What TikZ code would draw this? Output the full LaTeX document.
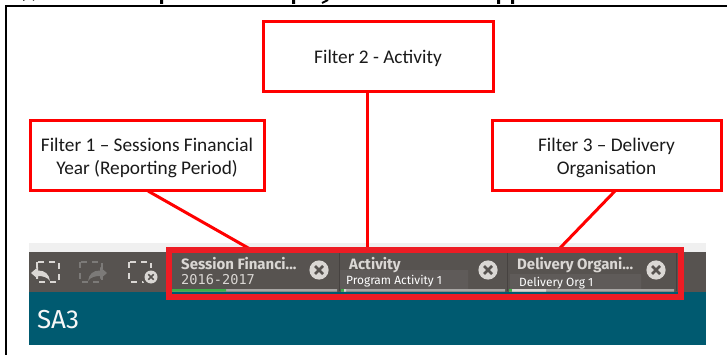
\documentclass[tikz,border=0pt]{standalone}
\usepackage{fontspec}
\setmainfont{Carlito}
\newfontfamily\uifont{Fira Sans}
\newfontfamily\uimono{DejaVu Sans Mono}
\newcommand{\toppad}{\rule{0pt}{17pt}}
\definecolor{callred}{HTML}{FF0000}
\definecolor{framered}{HTML}{ED1C24}
\definecolor{barDark}{HTML}{575350}
\definecolor{barTeal}{HTML}{005A70}
\definecolor{valBg}{HTML}{5F5B59}
\definecolor{uiLight}{HTML}{DAD7D4}
\definecolor{uiGrey}{HTML}{A8A6A4}
\definecolor{uiDim}{HTML}{7C7A78}
\definecolor{uiGreen}{HTML}{3FAE49}
\definecolor{txt}{HTML}{1A1A1A}
\tikzset{
 callout/.style={draw=callred,line width=3pt,fill=white,text=txt,inner sep=0pt,align=center,font=\fontsize{19.3}{23.5}\selectfont},
 link/.style={draw=callred,line width=3pt},
 tabtitle/.style={anchor=base west,inner sep=0pt,text=uiLight,font=\uifont\bfseries\fontsize{15}{16}\selectfont},
 tabvalue/.style={anchor=base west,inner sep=0pt,text=white,font=\uifont\fontsize{11.9}{14}\selectfont},
 closeicon/.pic={\fill[uiLight] (0,0) circle (9.6);
   \draw[barDark,line width=2.6pt] (-4,-4)--(4,4) (-4,4)--(4,-4);},
 dashbox/.style={draw=#1,line width=1.5pt,dash pattern=on 6pt off 5pt},
}
\begin{document}
\begin{tikzpicture}[x=1pt,y=-1pt]
\useasboundingbox (0,0) rectangle (727,355);
\fill[white] (0,0) rectangle (727,355);
% clipped title descenders and page frame
\begin{scope}
\clip (0,0) rectangle (727,4);
\draw[black,line width=2pt] (23,0) arc[start angle=200,end angle=340,x radius=6,y radius=3];
\fill[black] (160,0) rectangle (163,4) (292,0) rectangle (295,4) (497,0) rectangle (500,4) (511,0) rectangle (514,4);
\draw[black,line width=2pt] (328,0) -- (322,3);
\end{scope}
\draw[black,line width=2pt] (5.5,355) -- (5.5,6.5) -- (727,6.5);
% screenshot
\fill[black!6] (29,243) rectangle (706,252);
\fill[barDark] (29,252) rectangle (706,292);
\fill[barTeal] (29,292) rectangle (706,345);
\node[anchor=base west,inner sep=0pt,text=black!3!white,font=\uifont\fontsize{26}{28}\selectfont] (sa) at (37,328) {SA3};
% toolbar icons
\draw[dashbox=uiLight] (37,262) rectangle (59,282);
\fill[uiLight] (31,273) -- (38,267) -- (38,270.5) .. controls (45,270.5) and (49,274) .. (50,281) .. controls (47,277) and (43,276) .. (38,276) -- (38,279) -- cycle;
\draw[dashbox=uiDim] (80,262) rectangle (102,282);
\fill[uiDim] (107,273) -- (100,267) -- (100,270.5) .. controls (93,270.5) and (89,274) .. (88,281) .. controls (91,277) and (95,276) .. (100,276) -- (100,279) -- cycle;
\draw[dashbox=uiLight] (129,262) rectangle (151,282);
\fill[barDark] (151,277) circle (9);
\fill[uiLight] (151,277) circle (6.5);
\draw[barDark,line width=1.7pt] (148.3,274.3)--(153.7,279.7) (148.3,279.7)--(153.7,274.3);
% tabs
\fill[valBg] (340,270) rectangle (468,289) (510,274) rectangle (641,289);
\draw[barDark!80!black,line width=1pt] (339,253) -- (339,291) (507,253) -- (507,291) (676,253) -- (676,291);
\fill[uiGrey] (172,289) rectangle (337,291.5) (341,289) rectangle (505,291.5) (509,289) rectangle (674,291.5);
\fill[uiGreen] (172,289) rectangle (226,291.5) (341,289) rectangle (344,291.5) (509,289) rectangle (512,291.5);
\fill[uiLight] (344,289) rectangle (346,291.5) (512,289) rectangle (546,291.5);
\node[tabtitle] (t1) at (181,269) {Session Financi...};
\node[anchor=base west,inner sep=0pt,text=uiLight,font=\uimono\fontsize{13.6}{14}\selectfont] (v1) at (181,284) {2016-2017};
\node[tabtitle] (t2) at (349,269) {Activity};
\node[tabvalue] (v2) at (346,284) {Program Activity 1};
\node[tabtitle] (t3) at (517,269) {Delivery Organi...};
\node[tabvalue] (v3) at (519,286) {Delivery Org 1};
\pic at (319,270) {closeicon};
\pic at (488,270) {closeicon};
\pic at (656,270) {closeicon};
% callouts
\coordinate (e1) at (250,249);
\coordinate (e2) at (367,249);
\coordinate (e3) at (560,248);
\coordinate (s1) at (148,191);
\coordinate (s2) at (367,92);
\coordinate (s3) at (615,191);
\draw[link] (s1) -- (e1);
\draw[link] (s2) -- (e2);
\draw[link] (s3) -- (e3);
\node[draw=framered,line width=5.5pt,minimum width=512pt,minimum height=47pt,inner sep=0pt] (frame) at (425,273.5) {};
\node[callout,minimum width=234pt,minimum height=70pt] (f1) at (147,156) {\toppad Filter 1 – Sessions Financial\\Year (Reporting Period)};
\node[callout,minimum width=230pt,minimum height=70pt] (f2) at (378,57) {\toppad Filter 2 - Activity};
\node[callout,minimum width=229pt,minimum height=70pt] (f3) at (606.5,156) {\toppad Filter 3 – Delivery\\Organisation};
\end{tikzpicture}
\end{document}
